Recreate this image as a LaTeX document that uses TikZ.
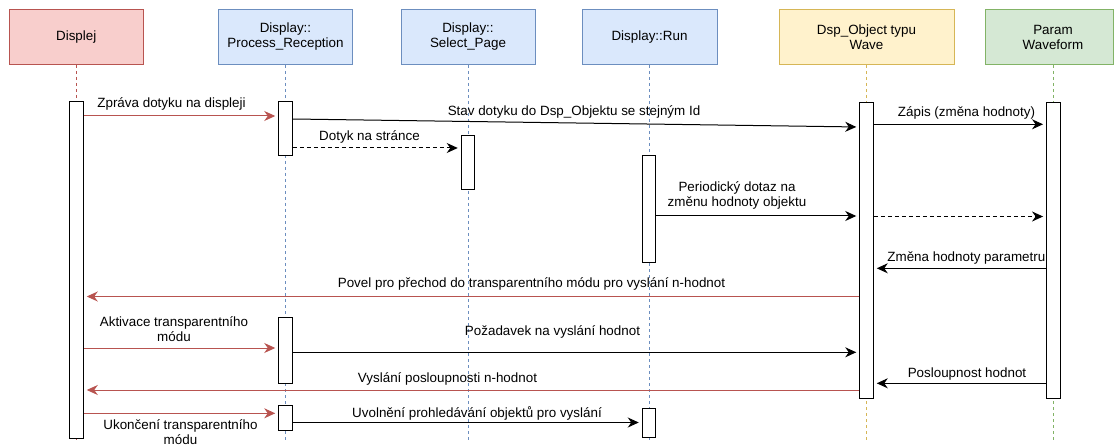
\documentclass[tikz,border=0pt]{standalone}
\usepackage{fontspec}
\setmainfont{Liberation Sans}
\usetikzlibrary{arrows.meta}
\definecolor{redF}{HTML}{F8CECC}\definecolor{redS}{HTML}{B85450}
\definecolor{blueF}{HTML}{DAE8FC}\definecolor{blueS}{HTML}{6C8EBF}
\definecolor{yelF}{HTML}{FFF2CC}\definecolor{yelS}{HTML}{D6B656}
\definecolor{grnF}{HTML}{D5E8D4}\definecolor{grnS}{HTML}{82B366}
\newcommand\actbar[4]{\node[actbox, minimum height={#4-#3}] (#1) at (#2,{(#3+#4)/2}) {};}
\begin{document}
\begin{tikzpicture}[x=1pt,y=-1pt,
  font=\fontsize{13.4}{15}\selectfont,
  hdr/.style={draw, line width=1pt, minimum height=55pt, align=center, inner sep=2pt},
  hred/.style={hdr, fill=redF, draw=redS},
  hblue/.style={hdr, fill=blueF, draw=blueS},
  hyel/.style={hdr, fill=yelF, draw=yelS},
  hgrn/.style={hdr, fill=grnF, draw=grnS},
  life/.style={line width=1pt, dash pattern=on 3pt off 3pt},
  actbox/.style={draw, fill=white, line width=1pt, minimum width=13.5pt, inner sep=0pt},
  msg/.style={line width=1pt, -{Stealth[length=11pt,width=10pt,inset=3.5pt]}, shorten >=3pt},
  rmsg/.style={msg, draw=redS, color=redS},
  lbl/.style={inner sep=0pt, align=center}
]
\useasboundingbox (0,0) rectangle (1115,446);

% headers
\node[hred, minimum width=134.5pt] (hD) at (76.25,37) {Displej};
\node[hblue, minimum width=134pt] (hPR) at (285.5,37) {Display::\\Process\_Reception};
\node[hblue, minimum width=134pt] (hSP) at (468,37) {Display::\\Select\_Page};
\node[hblue, minimum width=135pt] (hR) at (649.5,37) {Display::Run};
\node[hyel, minimum width=175pt] (hO) at (866.5,37) {Dsp\_Object typu\\Wave};
\node[hgrn, minimum width=128pt] (hP) at (1049.5,37) {\hspace*{7pt}Param\\\hspace*{7pt}Waveform};

% lifelines
\coordinate (eD) at (76.5,440);
\coordinate (ePR) at (285.5,440);
\coordinate (eSP) at (468,440);
\coordinate (eR) at (649.5,440);
\coordinate (eO) at (866.5,440);
\coordinate (eP) at (1053.3,440);
\draw[life, redS] (eD |- hD.south) -- (eD);
\draw[life, blueS] (ePR |- hPR.south) -- (ePR);
\draw[life, blueS] (eSP |- hSP.south) -- (eSP);
\draw[life, blueS] (eR |- hR.south) -- (eR);
\draw[life, yelS] (eO |- hO.south) -- (eO);
\draw[life, grnS] (eP |- hP.south) -- (eP);

% activation bars
\actbar{aD}{76.5}{102}{438}
\actbar{aPR1}{285.5}{102}{155.5}
\actbar{aSP}{468}{136}{189.5}
\actbar{aR1}{649}{156}{262}
\actbar{aO}{866.5}{103}{398}
\actbar{aP}{1053.3}{103}{398}
\actbar{aPR2}{285.5}{317}{383}
\actbar{aPR3}{285.5}{405.5}{430}
\actbar{aR2}{649}{408.5}{437}

% messages
\draw[rmsg] (aD.east |- 0,116) -- (aPR1.west |- 0,116);
\draw[msg] (aPR1.east |- 0,119) -- (aO.west |- 0,127);
\draw[msg, dash pattern=on 4pt off 3pt] (aPR1.east |- 0,148) -- (aSP.west |- 0,148);
\draw[msg] (aO.east |- 0,124.3) -- (aP.west |- 0,124.3);
\draw[msg] (aR1.east |- 0,216) -- (aO.west |- 0,216);
\draw[msg, dash pattern=on 4pt off 3pt] (aO.east |- 0,216.5) -- (aP.west |- 0,216.5);
\draw[msg] (aP.west |- 0,268.3) -- (aO.east |- 0,268.3);
\draw[rmsg] (aO.west |- 0,296.5) -- (aD.east |- 0,296.5);
\draw[rmsg] (aD.east |- 0,348) -- (aPR2.west |- 0,348);
\draw[msg] (aPR2.east |- 0,352.3) -- (aO.west |- 0,352.3);
\draw[msg] (aP.west |- 0,383.3) -- (aO.east |- 0,383.3);
\draw[rmsg] (aO.west |- 0,390) -- (aD.east |- 0,390);
\draw[rmsg] (aD.east |- 0,413.3) -- (aPR3.west |- 0,413.3);
\draw[msg] (aPR3.east |- 0,422.5) -- (aR2.west |- 0,422.5);

% labels
\node[lbl] (l1) at (171.5,104) {Zpráva dotyku na displeji};
\node[lbl] (l2) at (574,112) {Stav dotyku do Dsp\_Objektu se stejným Id};
\node[lbl] (l3) at (369.5,137) {Dotyk na stránce};
\node[lbl] (l4) at (966.5,112.5) {Zápis (změna hodnoty)};
\node[lbl] (l5) at (737,195.5) {Periodický dotaz na\\změnu hodnoty objektu};
\node[lbl, anchor=east] (l7) at (1045.5,258) {Změna hodnoty parametru};
\node[lbl] (l8) at (531.5,284) {Povel pro přechod do transparentního módu pro vyslání n-hodnot};
\node[lbl] (l9) at (174,329.5) {Aktivace transparentního\\módu};
\node[lbl] (l10) at (552.5,331.5) {Požadavek na vyslání hodnot};
\node[lbl] (l11) at (967,374) {Posloupnost hodnot};
\node[lbl] (l12) at (447.5,379) {Vyslání posloupnosti n-hodnot};
\node[lbl] (l13) at (180.5,432.5) {Ukončení transparentního\\módu};
\node[lbl] (l14) at (477,413) {Uvolnění prohledávání objektů pro vyslání};
\end{tikzpicture}
\end{document}
